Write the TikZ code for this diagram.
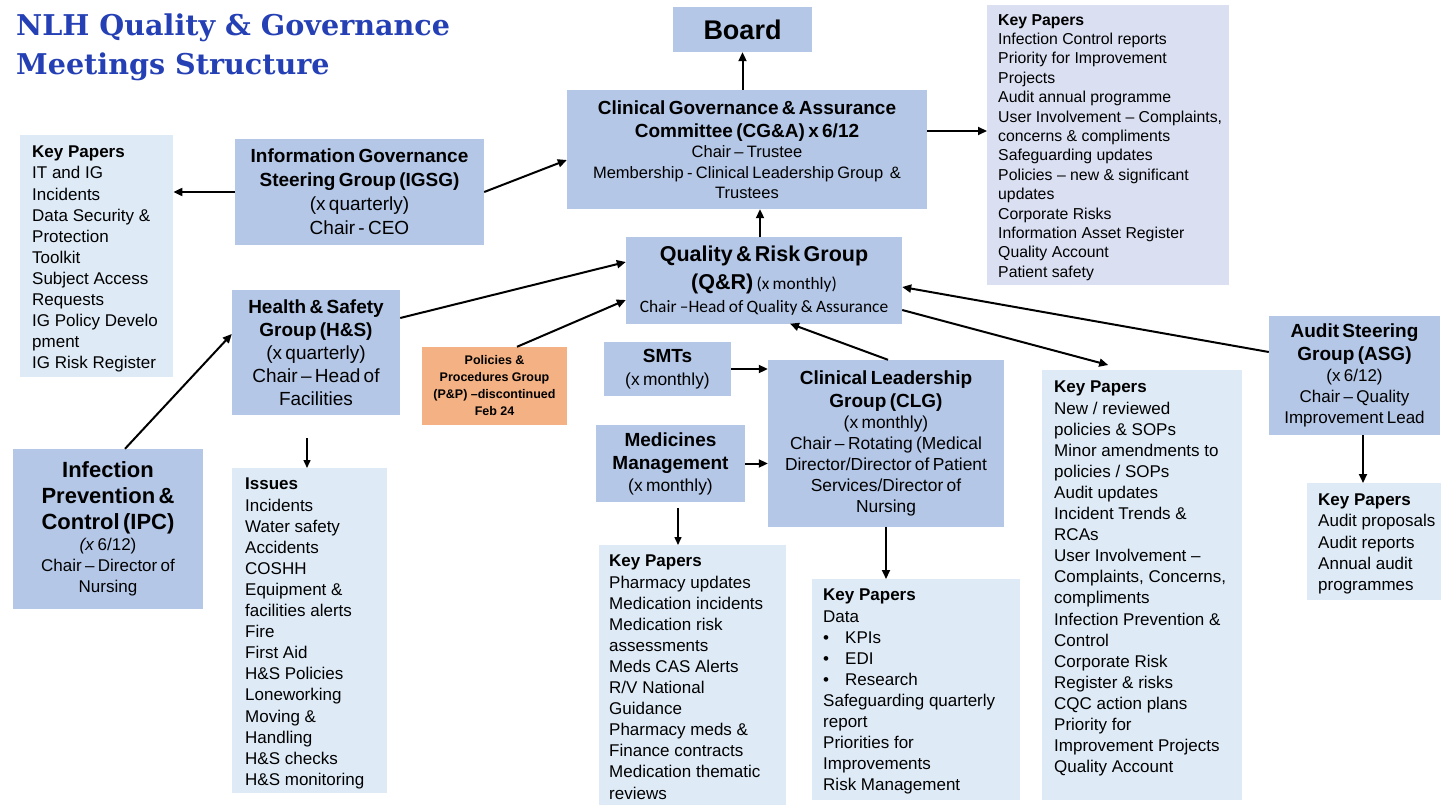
\documentclass[tikz,border=0pt]{standalone}
\usepackage{fontspec}
\setmainfont{Liberation Sans}
\newfontfamily\calfont{Carlito}
\newfontfamily\titlefont{DejaVu Serif}
\usetikzlibrary{arrows.meta}
\definecolor{midblue}{HTML}{B4C7E7}
\definecolor{lightblue}{HTML}{DEEBF7}
\definecolor{lavender}{HTML}{DAE0F2}
\definecolor{pporange}{HTML}{F4B183}
\definecolor{titleblue}{HTML}{2440B4}
\newcommand{\setfs}[2]{\fontsize{#1}{#2}\selectfont}
\begin{document}
\begin{tikzpicture}[x=1pt,y=-1pt,
  box/.style={fill=midblue, inner sep=0pt, align=center, text=black},
  kpbox/.style={fill=lightblue, inner sep=0pt, anchor=north west},
  kptext/.style={anchor=north west, inner sep=0pt, align=left, font=\setfs{17}{21.1}},
  arr/.style={line width=2pt, -{Triangle[length=9pt,width=8pt]}},
  thinarr/.style={line width=1.5pt, -{Triangle[length=8pt,width=7pt]}}
]
\useasboundingbox (0,0) rectangle (1446,805);

% title
\node[anchor=north west, inner sep=0pt, align=left, text=titleblue,
  font=\titlefont\bfseries\setfs{28.6}{38.5}] (title) at (16,14)
  {NLH Quality \& Governance\\Meetings Structure};

% main boxes
\node[box, minimum width=139, minimum height=45, text width=135,
  font=\bfseries\setfs{27}{30}] (board) at (742.5,29.5) {Board};

\node[box, minimum width=360, minimum height=119, text width=356] (cga) at (747,149.5)
  {{\bfseries\setfs{19}{23}Clinical Governance \& Assurance\\Committee (CG\&A) x 6/12\par}
   {\setfs{16.5}{20.5}Chair – Trustee\\Membership - Clinical Leadership Group\ \ \&\\Trustees\par}};

\node[box, minimum width=249, minimum height=106, text width=245] (igsg) at (359.5,192)
  {{\bfseries\setfs{19}{24}Information Governance\\Steering Group (IGSG)\par}
   {\setfs{19}{24}(x quarterly)\\Chair - CEO\par}};

\node[box, minimum width=168, minimum height=125, text width=164] (hs) at (316,352.5)
  {{\bfseries\setfs{19}{23}Health \& Safety\\Group (H\&S)\par}
   {\setfs{19}{23}(x quarterly)\\Chair – Head of\\Facilities\par}};

\node[box, minimum width=190, minimum height=160, text width=186] (ipc) at (108,529)
  {{\bfseries\setfs{22}{26}Infection\\Prevention \&\\Control (IPC)\par}
   {\setfs{17}{21}\textit{(x} 6/12)\\Chair – Director of\\Nursing\par}};

\node[box, fill=pporange, minimum width=145, minimum height=78, text width=141] (pp) at (494.5,386)
  {{\bfseries\setfs{12.5}{17}Policies \&\\Procedures Group\\(P\&P) –discontinued\\Feb 24\par}};

\node[box, minimum width=276, minimum height=86, text width=272] (qr) at (764,280.5)
  {{\bfseries\setfs{21.5}{28}Quality \& Risk Group\\(Q\&R) {\mdseries\calfont\setfs{17.4}{28}(x monthly)}\par}
   {\calfont\setfs{17.4}{23}Chair –Head of Quality \& Assurance\par}};

\node[box, minimum width=127, minimum height=54, text width=123] (smt) at (667.5,369)
  {{\bfseries\setfs{19}{23}SMTs\par}{\setfs{17.4}{23}(x monthly)\par}};

\node[box, minimum width=149, minimum height=77, text width=145] (med) at (670.5,463.5)
  {{\bfseries\setfs{19}{23}Medicines\\Management\par}{\setfs{17.4}{22}(x monthly)\par}};

\node[box, minimum width=236, minimum height=167, text width=232] (clg) at (886,443.5)
  {{\bfseries\setfs{19}{23}Clinical Leadership\\Group (CLG)\par}
   {\setfs{17.4}{21}(x monthly)\\Chair – Rotating (Medical\\Director/Director of Patient\\Services/Director of\\Nursing\par}};

\node[box, minimum width=171, minimum height=119, text width=167] (asg) at (1354.5,375.5)
  {{\bfseries\setfs{19}{23}Audit Steering\\Group (ASG)\par}
   {\setfs{17}{21}(x 6/12)\\Chair – Quality\\Improvement Lead\par}};

% key paper boxes
\node[kpbox, fill=lavender, minimum width=242, minimum height=280] (kptr) at (987,5) {};
\node[kptext, font=\setfs{15.8}{19.4}] (kptrt) at (998,14)
  {\textbf{Key Papers}\\Infection Control reports\\Priority for Improvement\\Projects\\Audit annual programme\\User Involvement – Complaints,\\concerns \& compliments\\Safeguarding updates\\Policies – new \& significant\\updates\\Corporate Risks\\Information Asset Register\\Quality Account\\Patient safety};

\node[kpbox, minimum width=153, minimum height=242] (kpl) at (20,135) {};
\node[kptext] (kplt) at (32,146)
  {\textbf{Key Papers}\\IT and IG\\Incidents\\Data Security \&\\Protection\\Toolkit\\Subject Access\\Requests\\IG Policy Develo\\pment\\IG Risk Register};

\node[kpbox, minimum width=155, minimum height=325] (iss) at (232,468) {};
\node[kptext] (isst) at (245,478)
  {\textbf{Issues}\\Incidents\\Water safety\\Accidents\\COSHH\\Equipment \&\\facilities alerts\\Fire\\First Aid\\H\&S Policies\\Loneworking\\Moving \&\\Handling\\H\&S checks\\H\&S monitoring};

\node[kpbox, minimum width=187, minimum height=260] (kpmed) at (599,545) {};
\node[kptext] (kpmedt) at (609,555)
  {\textbf{Key Papers}\\Pharmacy updates\\Medication incidents\\Medication risk\\assessments\\Meds CAS Alerts\\R/V National\\Guidance\\Pharmacy meds \&\\Finance contracts\\Medication thematic\\reviews};

\node[kpbox, minimum width=208, minimum height=221] (kpclg) at (812,579) {};
\node[kptext] (kpclgt) at (823,589)
  {\textbf{Key Papers}\\Data\\\makebox[22pt][l]{•}KPIs\\\makebox[22pt][l]{•}EDI\\\makebox[22pt][l]{•}Research\\Safeguarding quarterly\\report\\Priorities for\\Improvements\\Risk Management};

\node[kpbox, minimum width=200, minimum height=430] (kpqr) at (1042,370) {};
\node[kptext] (kpqrt) at (1054,381)
  {\textbf{Key Papers}\\New / reviewed\\policies \& SOPs\\Minor amendments to\\policies / SOPs\\Audit updates\\Incident Trends \&\\RCAs\\User Involvement –\\Complaints, Concerns,\\compliments\\Infection Prevention \&\\Control\\Corporate Risk\\Register \& risks\\CQC action plans\\Priority for\\Improvement Projects\\Quality Account};

\node[kpbox, minimum width=134, minimum height=117] (kpasg) at (1307,483) {};
\node[kptext] (kpasgt) at (1318,494)
  {\textbf{Key Papers}\\Audit proposals\\Audit reports\\Annual audit\\programmes};

% connectors
\draw[arr] (cga.north -| board.south) -- (board.south);
\draw[arr] ([xshift=-4pt]qr.north) -- ([xshift=-4pt]qr.north |- cga.south);
\draw[arr] ([yshift=18.5pt]cga.east) -- ([yshift=18.5pt]cga.east -| kptr.west);
\draw[arr] (igsg.west) -- (igsg.west -| kpl.east);
\draw[arr] (igsg.east) -- ([yshift=-10.5pt]cga.west);
\draw[arr] ([yshift=34.5pt]hs.east) -- ([yshift=18.5pt]qr.west);
\draw[arr] ([xshift=17pt]ipc.north) -- ([yshift=18.5pt]hs.west);
\draw[arr] ([xshift=22.5pt]pp.north) -- ([yshift=-19.5pt]qr.west);
\draw[thinarr, shorten <=23pt] ([xshift=-9pt]hs.south) -- ([xshift=-9pt]hs.south |- iss.north);
\draw[arr] (smt.east) -- (smt.east -| clg.west);
\draw[arr] (med.east) -- (med.east -| clg.west);
\draw[thinarr, shorten <=6pt] ([xshift=7.5pt]med.south) -- ([xshift=7.5pt]med.south |- kpmed.north);
\draw[arr] ([xshift=2pt]clg.north) -- ([xshift=26pt]qr.south);
\draw[arr] (clg.south) -- (clg.south |- kpclg.north);
\draw[arr] ([yshift=-29.5pt]qr.east) -- ([shift={(-34pt,5pt)}]kpqr.north);
\draw[arr] ([yshift=23.5pt]asg.west) -- ([yshift=-6.5pt]qr.east);
\draw[arr] ([xshift=8.5pt]asg.south) -- ([xshift=8.5pt]asg.south |- kpasg.north);
\end{tikzpicture}
\end{document}
